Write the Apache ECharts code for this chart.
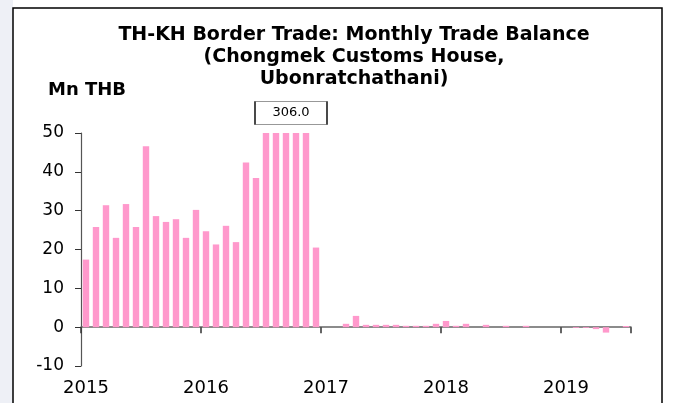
<!DOCTYPE html>
<html>
<head>
<meta charset="utf-8">
<script src="https://cdn.jsdelivr.net/npm/echarts@6/dist/echarts.min.js"></script>
<style>
  html, body { margin: 0; padding: 0; background: #fff; }
  #chart { width: 675px; height: 403px; }
</style>
</head>
<body>
<div id="chart"></div>
<script>
const years = ['2015', '2016', '2017', '2018', '2019'];
const monthNames = ['Jan', 'Feb', 'Mar', 'Apr', 'May', 'Jun', 'Jul', 'Aug', 'Sep', 'Oct', 'Nov', 'Dec'];

// monthly balance, Mn THB (Jan 2015 - Jul 2019)
const balance2015 = [17.4, 25.8, 31.4, 23.0, 31.7, 25.8, 46.6, 28.6, 27.1, 27.8, 23.0, 30.2];
const balance2016 = [24.7, 21.3, 26.1, 21.9, 42.4, 38.4, 62.0, 85.0, 306.0, 140.0, 75.0, 20.5];
const balance2017 = [0, 0, 0.86, 2.9, 0.6, 0.6, 0.6, 0.6, 0.35, 0.35, 0.35, 0.86];
const balance2018 = [1.6, 0.35, 0.86, 0, 0.6, 0, 0.35, 0, 0.35, 0, 0, 0];
const balance2019 = [0, -0.2, -0.2, -0.5, -1.4, 0, 0.3];

const peakLabel = '306.0';
const peakMonth = 'Sep 2016';

const categories = [];
years.forEach((y) => {
  monthNames.forEach((m) => categories.push(m + ' ' + y));
});
const values = [].concat(balance2015, balance2016, balance2017, balance2018, balance2019);
categories.length = values.length;

const FONT = 'DejaVu Sans';
const yearTick = (idx) => idx % 12 === 0;

const chart = echarts.init(document.getElementById('chart'), null, { renderer: 'canvas' });

const option = {
  animation: false,
  backgroundColor: '#fff',
  title: {
    text: 'TH-KH Border Trade: Monthly Trade Balance\n(Chongmek Customs House,\nUbonratchathani)',
    left: 349,
    top: 19,
    textAlign: 'center',
    textStyle: {
      fontFamily: FONT,
      fontWeight: 'bold',
      fontSize: 19,
      lineHeight: 22,
      color: '#000',
    },
  },
  grid: {
    left: 81,
    right: 44,
    top: 133,
    bottom: 37,
    outerBoundsMode: 'none',
  },
  xAxis: [
    {
      // zero line with year ticks
      type: 'category',
      data: categories,
      boundaryGap: true,
      axisLine: { onZero: true, lineStyle: { color: '#666', width: 1.5 } },
      axisTick: {
        show: true,
        length: 6,
        interval: yearTick,
        lineStyle: { color: '#333', width: 1.5 },
      },
      axisLabel: { show: false },
      splitLine: { show: false },
    },
    {
      // year labels along the bottom
      type: 'category',
      data: categories,
      boundaryGap: true,
      position: 'bottom',
      axisLine: { show: false, onZero: false },
      axisTick: { show: false },
      axisLabel: {
        interval: yearTick,
        formatter: (v) => v.split(' ')[1],
        margin: 13,
        hideOverlap: false,
        fontFamily: FONT,
        fontSize: 18,
        color: '#000',
      },
      splitLine: { show: false },
    },
  ],
  yAxis: {
    type: 'value',
    min: -10,
    max: 50,
    interval: 10,
    axisLine: { show: true, lineStyle: { color: '#555', width: 1.2 } },
    axisTick: { show: true, length: 6, lineStyle: { color: '#333' } },
    axisLabel: {
      margin: 17,
      fontFamily: FONT,
      fontSize: 17,
      color: '#000',
    },
    splitLine: { show: false },
  },
  series: [
    {
      type: 'bar',
      xAxisIndex: 0,
      data: values,
      barCategoryGap: '36%',
      clip: true,
      itemStyle: { color: '#FF99CC' },
      markPoint: {
        silent: true,
        symbol: 'rect',
        symbolSize: [72, 23],
        symbolOffset: [5, -20],
        itemStyle: { color: '#fff', borderColor: '#333', borderWidth: 1 },
        label: {
          show: true,
          position: 'inside',
          formatter: peakLabel,
          color: '#000',
          fontFamily: FONT,
          fontSize: 13,
        },
        data: [{ coord: [peakMonth, 50] }],
      },
    },
  ],
  graphic: {
    elements: [
      {
        type: 'rect',
        left: 0,
        top: 0,
        shape: { x: 0, y: 0, width: 13, height: 403 },
        style: { fill: '#eef0f6' },
        z: -1,
      },
      {
        type: 'rect',
        shape: { x: 13, y: 8, width: 649, height: 410 },
        style: { fill: 'none', stroke: '#000', lineWidth: 1.5 },
        z: 10,
      },
      {
        type: 'text',
        left: 48,
        top: 81,
        style: {
          text: 'Mn THB',
          font: 'bold 18px "DejaVu Sans"',
          fill: '#000',
        },
      },
    ],
  },
};

chart.setOption(option);
</script>
</body>
</html>
